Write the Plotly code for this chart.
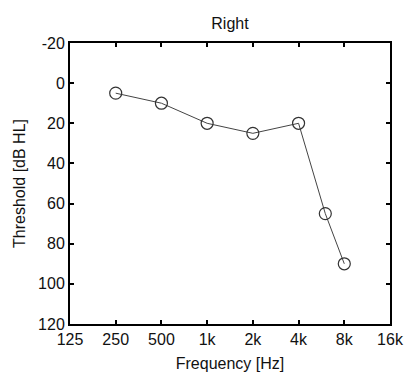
import plotly.graph_objects as go
import math

freqs = [250, 500, 1000, 2000, 4000, 6000, 8000]
thresholds = [5, 10, 20, 25, 20, 65, 90]
x_tickvals = [125, 250, 500, 1000, 2000, 4000, 8000, 16000]
x_ticktext = ["125", "250", "500", "1k", "2k", "4k", "8k", "16k"]
y_tickvals = [-20, 0, 20, 40, 60, 80, 100, 120]
y_ticktext = ["-20", "0", "20", "40", "60", "80", "100", "120"]

fig = go.Figure()
fig.add_trace(go.Scatter(
    x=freqs, y=thresholds, mode="lines+markers",
    line=dict(color="#444444", width=1),
    marker=dict(symbol="circle-open", size=12, color="#333333", line=dict(width=1.2)),
    showlegend=False,
))

font = dict(family="Liberation Sans, Arial, sans-serif", size=16, color="#111111")
fig.update_layout(
    width=404, height=372,
    margin=dict(l=70, r=14, t=43, b=48),
    paper_bgcolor="white", plot_bgcolor="white",
    font=font,
    title=dict(text="Right", x=0.5, xanchor="center", xref="paper", y=1 - 23/372, yanchor="middle",
               font=dict(size=16)),
    xaxis=dict(
        type="log", range=[math.log10(125), math.log10(16000)],
        tickvals=x_tickvals, ticktext=x_ticktext,
        ticks="inside", ticklen=4, tickwidth=2, tickcolor="black",
        showline=True, linewidth=2, linecolor="black", mirror="ticks",
        showgrid=False, zeroline=False, tickfont=dict(size=16), automargin=False,
        title=dict(text="Frequency [Hz]", standoff=11, font=dict(size=16)),
    ),
    yaxis=dict(
        range=[120, -20], tickvals=y_tickvals, ticktext=y_ticktext,
        ticks="inside", ticklen=4, tickwidth=2, tickcolor="black",
        showline=True, linewidth=2, linecolor="black", mirror="ticks",
        showgrid=False, zeroline=False, tickfont=dict(size=16), automargin=False,
        title=dict(text="Threshold [dB HL]", standoff=8, font=dict(size=16)),
    ),
)
fig.write_html("out.html")
